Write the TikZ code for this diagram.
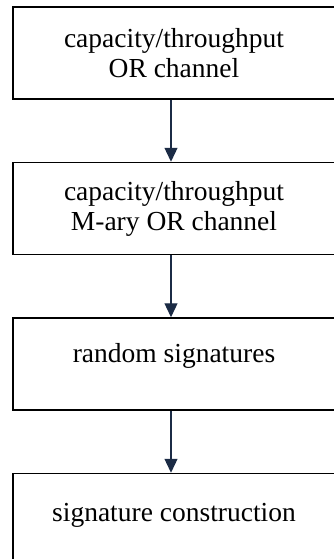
\documentclass[tikz,border=0pt]{standalone}
\usepackage{fontspec}
\setmainfont{Liberation Serif}
\usetikzlibrary{arrows.meta,positioning}
\definecolor{arrownavy}{HTML}{1B2B45}

\begin{document}
\begin{tikzpicture}[
  stagebox/.style={draw=black,line width=1.5pt,minimum width=322pt,minimum height=92pt,
    inner sep=0pt,align=center,font=\fontsize{27.5}{30}\selectfont},
  flowarrow/.style={draw=arrownavy,line width=1.3pt,-{Triangle[width=13pt,length=14pt]}},
  node distance=62pt
]
\useasboundingbox (0,0) rectangle (334pt,-559pt);

\node[stagebox] (orchan) at (174pt,-53pt) {capacity/throughput\\OR channel};
\node[stagebox,below=of orchan] (maryor) {capacity/throughput\\M-ary OR channel};
\node[stagebox,below=of maryor,text depth=23pt] (randsig) {random signatures};
\node[stagebox,below=of randsig,text depth=14pt] (sigcon) {signature construction};

\draw[flowarrow] ([xshift=-3pt]orchan.south) -- ([xshift=-3pt]maryor.north);
\draw[flowarrow] ([xshift=-3pt]maryor.south) -- ([xshift=-3pt]randsig.north);
\draw[flowarrow] ([xshift=-3pt]randsig.south) -- ([xshift=-3pt]sigcon.north);
\end{tikzpicture}
\end{document}
